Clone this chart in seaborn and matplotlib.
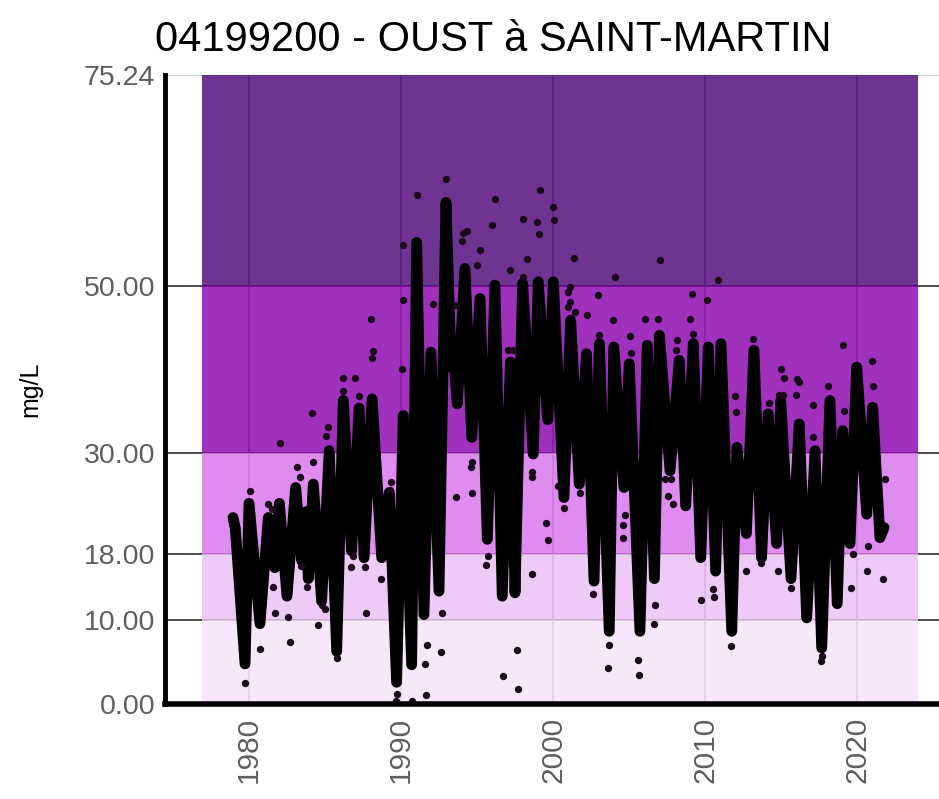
import matplotlib
matplotlib.use("Agg")
import matplotlib.pyplot as plt
import seaborn as sns
import numpy as np
import pandas as pd

# ---------------- data ----------------
title = "04199200 - OUST à SAINT-MARTIN"
y_label = "mg/L"
y_ticks = [0.0, 10.0, 18.0, 30.0, 50.0, 75.24]
y_tick_labels = ["0.00", "10.00", "18.00", "30.00", "50.00", "75.24"]
x_ticks = [1980, 1990, 2000, 2010, 2020]

# class bands (lower, upper)
band_lower = [0.0, 10.0, 18.0, 30.0, 50.0]
band_upper = [10.0, 18.0, 30.0, 50.0, 75.24]
band_colors = ["#f6e7fa", "#edcbf6", "#e08cf2", "#9f30bd", "#6f3391"]
band_start, band_end = 1976.9, 2024.0

# thick curve (decimal year, mg/L)
line_year = [1978.95, 1979.1, 1979.74, 1980.0, 1980.72, 1981.27, 1981.7, 1982.0,
             1982.5, 1983.07, 1983.47, 1983.75, 1983.9, 1984.23, 1984.78, 1985.28,
             1985.77, 1986.2, 1986.75, 1987.25, 1987.57, 1988.1, 1988.73, 1989.23,
             1989.71, 1990.15, 1990.7, 1991.03, 1991.51, 1991.97, 1992.5, 1992.96,
             1993.3, 1993.45, 1993.7, 1994.21, 1994.65, 1995.2, 1995.68, 1996.18,
             1996.66, 1997.2, 1997.5, 1998.0, 1998.7, 1999.03, 1999.65, 2000.02,
             2000.72, 2001.16, 2001.73, 2002.2, 2002.7, 2003.05, 2003.7, 2004.0,
             2004.67, 2005.02, 2005.72, 2006.2, 2006.67, 2007.0, 2007.7, 2008.31,
             2008.73, 2009.23, 2009.72, 2010.22, 2010.7, 2011.05, 2011.76, 2012.1,
             2012.72, 2013.22, 2013.72, 2014.16, 2014.71, 2014.98, 2015.66, 2016.2,
             2016.69, 2017.24, 2017.68, 2018.22, 2018.7, 2019.06, 2019.54, 2019.98,
             2020.64, 2021.03, 2021.51, 2021.78]
line_value = [22.3, 21.0, 4.8, 24.0, 9.6, 22.3, 16.3, 24.0,
              12.9, 25.9, 17.1, 23.0, 15.0, 26.3, 12.3, 30.3,
              6.3, 36.3, 18.3, 35.4, 17.5, 36.5, 17.5, 25.3,
              2.6, 34.5, 4.7, 55.2, 10.7, 42.1, 13.5, 60.0,
              40.3, 42.0, 35.9, 52.1, 31.9, 48.5, 19.7, 50.1,
              12.9, 40.9, 13.3, 50.3, 29.9, 50.5, 34.0, 50.5,
              24.7, 45.9, 26.3, 41.9, 14.7, 43.1, 8.7, 42.7,
              25.9, 40.7, 8.7, 42.9, 15.0, 44.1, 27.9, 41.1,
              23.7, 43.1, 17.5, 42.7, 15.9, 43.1, 8.7, 30.7,
              20.4, 42.3, 17.5, 34.7, 19.2, 36.3, 15.0, 33.5,
              10.3, 30.3, 6.7, 36.3, 12.0, 32.7, 19.2, 40.3,
              22.7, 35.5, 19.9, 21.1]

# individual measurements (decimal year, mg/L)
obs_year = [1979.74, 1980.07, 1980.72, 1981.27, 1981.49, 1981.6, 1981.71, 1982.04,
            1982.59, 1982.7, 1983.18, 1983.36, 1983.42, 1983.8, 1984.12, 1984.23,
            1984.56, 1984.78, 1985.0, 1985.07, 1985.2, 1985.77, 1986.16, 1986.2,
            1986.69, 1986.82, 1986.97, 1987.26, 1987.63, 1987.7, 1988.03, 1988.11,
            1988.18, 1988.68, 1989.32, 1989.28,
            1989.71, 1989.67, 1990.7, 1990.09, 1990.15, 1990.15, 1991.03, 1991.58,
            1991.64, 1991.73, 1992.13, 1992.61, 1992.67, 1992.96, 1993.62, 1993.62,
            1993.99, 1994.1, 1994.32, 1994.59, 1994.65, 1994.7, 1995.02, 1995.2,
            1995.59, 1995.74, 1996.0, 1996.18, 1996.69, 1997.06, 1997.17, 1997.35,
            1997.6, 1997.67, 1998.0, 1998.05, 1998.32, 1998.59, 1998.65, 1998.65,
            1998.98, 1999.1, 1999.14, 1999.57, 1999.65, 1999.97, 2000.07, 2000.35,
            2000.72, 2001.0, 2001.0, 2001.12, 2001.12, 2001.38, 2001.45, 2001.78,
            2002.22, 2002.65, 2002.98, 2003.05, 2003.64, 2003.7, 2003.97, 2004.08,
            2004.59, 2004.63, 2004.74, 2005.07, 2005.11, 2005.61, 2005.68, 2006.05,
            2006.64, 2006.71, 2006.93, 2007.04, 2007.37, 2007.59, 2007.74, 2007.88,
            2008.09, 2008.13, 2009.01, 2009.13, 2009.23, 2009.74, 2010.11, 2010.55,
            2010.61, 2010.87, 2011.71, 2011.97, 2012.04, 2012.7,
            2013.18, 2013.68, 2014.23, 2014.82, 2014.9, 2015.03, 2015.11, 2015.18,
            2015.64, 2015.99, 2016.07, 2016.2, 2017.08, 2017.13, 2017.62, 2017.68,
            2018.11, 2019.1, 2019.14, 2019.6, 2019.76, 2020.64, 2020.74, 2020.96,
            2021.03, 2021.69, 2021.84]
obs_value = [2.5, 25.5, 6.6, 23.9, 23.3, 14.0, 10.9, 31.2,
             10.4, 7.4, 28.4, 27.1, 16.5, 14.0, 34.8, 28.9,
             9.5, 11.9, 11.4, 32.0, 33.1, 5.5, 39.0, 37.4,
             16.4, 17.7, 39.0, 36.9, 16.4, 10.9, 46.0, 41.4,
             42.2, 15.0, 26.6, 25.6,
             1.2, 0.4, 0.4, 40.1, 48.3, 54.9, 60.9, 4.8,
             1.1, 7.1, 47.8, 6.2, 10.9, 62.8, 47.7, 24.8,
             55.4, 56.4, 56.6, 28.3, 28.9, 25.2, 52.5, 54.3,
             16.6, 17.7, 57.3, 60.4, 3.3, 42.3, 51.9, 42.3,
             6.4, 1.8, 51.1, 58.0, 53.2, 27.1, 27.8, 15.5,
             57.6, 56.2, 61.5, 21.7, 19.6, 59.4, 57.9, 26.1,
             23.5, 49.3, 47.5, 49.9, 48.1, 53.4, 46.9, 25.2,
             46.5, 13.1, 48.9, 44.1, 4.3, 7.0, 45.9, 51.1,
             19.8, 21.4, 22.6, 44.0, 42.0, 5.3, 3.5, 46.0,
             9.6, 11.9, 46.0, 53.1, 26.9, 24.9, 26.9, 23.9,
             42.3, 43.5, 46.1, 49.1, 44.3, 12.4, 48.3, 13.7,
             12.8, 50.7, 6.9, 36.9, 34.9, 15.9,
             43.7, 16.9, 36.0, 15.9, 37.0, 40.1, 37.0, 39.0,
             13.9, 37.0, 38.9, 38.5, 35.8, 31.9, 5.1, 5.7,
             38.0, 43.0, 35.0, 13.9, 17.9, 15.9, 18.9, 41.0,
             38.0, 14.9, 26.9]

line_df = pd.DataFrame({"year": line_year, "value": line_value})
obs_df = pd.DataFrame({"year": obs_year, "value": obs_value})

# ---------------- style ----------------
sns.set_theme(style="white")
plt.rcParams["font.family"] = ["Liberation Sans", "DejaVu Sans"]

W, H = 939, 799
fig = plt.figure(figsize=(W / 100, H / 100), dpi=100)
ax = fig.add_axes([165 / W, 1 - 704 / H, 1 - 165 / W, (704 - 75) / H])

BAND_ALPHA = 0.82


def pre_alpha(hex_color, a=BAND_ALPHA):
    c = np.array(matplotlib.colors.to_rgb(hex_color))
    return tuple(np.clip((c - (1 - a)) / a, 0, 1))


# grid lines (under translucent bands)
for yv in y_ticks[:-1]:
    ax.axhline(yv, color="#2e2e2e", lw=1.2, zorder=0.5)
ax.axhline(y_ticks[-1], color="#c8c8c8", lw=1.2, zorder=0.5)
for xv in x_ticks:
    ax.axvline(xv, color="#8a8a8a", lw=1.2, zorder=0.5)

# bands
for lo, hi, col in zip(band_lower, band_upper, band_colors):
    ax.fill_between([band_start, band_end], lo, hi, color=pre_alpha(col),
                    alpha=BAND_ALPHA, lw=0, zorder=1)

sns.lineplot(data=line_df, x="year", y="value", sort=False, estimator=None,
             color="black", lw=7.8, ax=ax, zorder=3,
             solid_joinstyle="round", solid_capstyle="round")
sns.scatterplot(data=obs_df, x="year", y="value", color="#1a0a1c", s=28,
                linewidth=0, ax=ax, zorder=4)

ax.set_xlim(1980 - (249 - 165) / 15.2, 1980 + (939 - 249) / 15.2)
ax.set_ylim(0, 75.24)
ax.set_yticks(y_ticks)
ax.set_yticklabels(y_tick_labels)
ax.set_xticks(x_ticks)
ax.set_xticklabels([str(v) for v in x_ticks], rotation=90)
ax.tick_params(axis="y", labelsize=20.5, colors="#5e5e5e", length=4, width=1, pad=3)
ax.tick_params(axis="x", labelsize=21.5, colors="#5e5e5e", length=4, width=1, pad=5)
ax.set_xlabel("")
ax.set_ylabel(y_label, fontsize=18, color="black", labelpad=30)

for side in ["top", "right"]:
    ax.spines[side].set_visible(False)
ax.spines["left"].set_color("black")
ax.spines["left"].set_linewidth(3.5)
ax.spines["bottom"].set_color("black")
ax.spines["bottom"].set_linewidth(4)
ax.spines["left"].set_zorder(5)
ax.spines["bottom"].set_zorder(5)

fig.text(493 / W, 1 - 40 / H, title, ha="center", va="center",
         fontsize=30, color="black")

fig.savefig("out.png", dpi=100)
